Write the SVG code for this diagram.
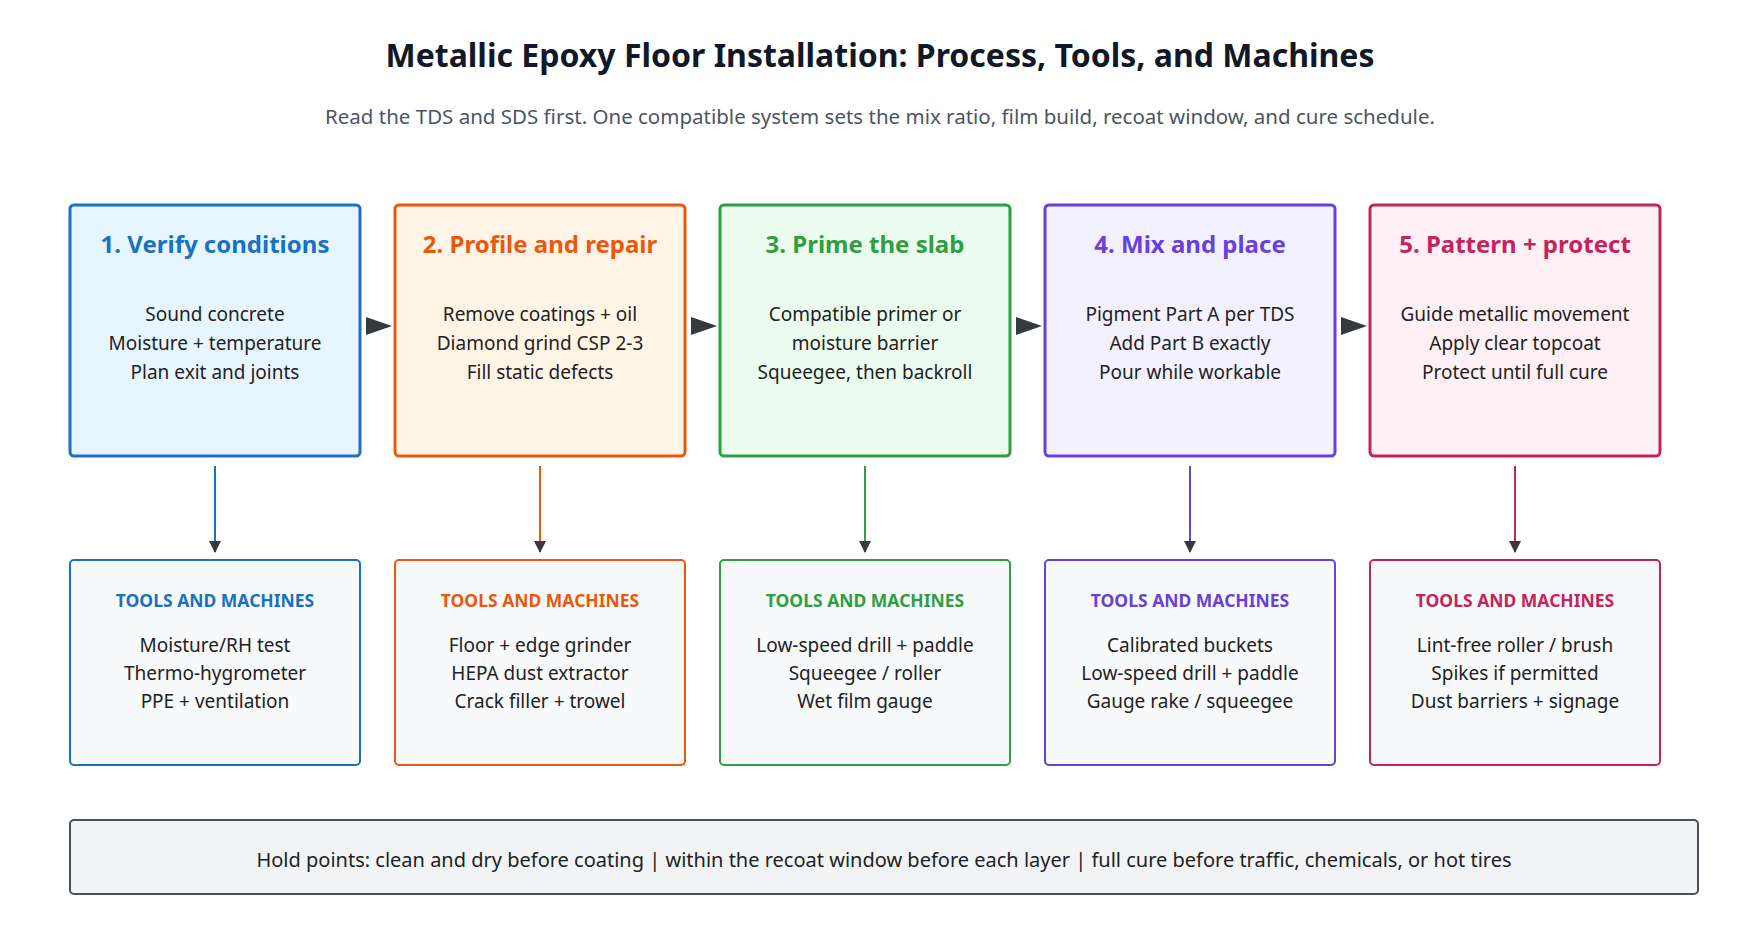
<svg xmlns="http://www.w3.org/2000/svg" width="1760" height="940" viewBox="0 0 1760 940">
<style>
text{font-family:"Noto Sans","Open Sans",sans-serif;text-anchor:middle}
.t{font-size:32px;font-weight:700;fill:#111827}
.s{font-size:20.5px;fill:#4b5563}
.h{font-size:24px;font-weight:700}
.b{font-size:19px;fill:#222}
.k{font-size:17.5px;font-weight:700}
.step{stroke-width:3}
.tool{stroke-width:2;fill:#f8f9fa}
</style>
<defs>
<marker id="d" markerWidth="12" markerHeight="16" refX="11" refY="6" orient="auto" markerUnits="userSpaceOnUse"><path d="M0,0L12,6L0,12z" fill="#343a40"/></marker>
<marker id="r" markerWidth="26" markerHeight="18" refX="26" refY="9" orient="auto" markerUnits="userSpaceOnUse"><path d="M0,0L26,9L0,18z" fill="#343a40"/></marker>
</defs>
<rect width="1760" height="940" fill="#fff"/>
<text class="t" x="880" y="67">Metallic Epoxy Floor Installation: Process, Tools, and Machines</text>
<text class="s" x="880" y="124">Read the TDS and SDS first. One compatible system sets the mix ratio, film build, recoat window, and cure schedule.</text>

<g id="connectors" stroke-width="2">
<path d="M366,326H392" stroke="none" marker-end="url(#r)"/>
<path d="M691,326H717" stroke="none" marker-end="url(#r)"/>
<path d="M1016,326H1042" stroke="none" marker-end="url(#r)"/>
<path d="M1341,326H1367" stroke="none" marker-end="url(#r)"/>
<path d="M215,466V552" stroke="#1971c2" marker-end="url(#d)"/>
<path d="M540,466V552" stroke="#e8590c" marker-end="url(#d)"/>
<path d="M865,466V552" stroke="#2f9e44" marker-end="url(#d)"/>
<path d="M1190,466V552" stroke="#6741d9" marker-end="url(#d)"/>
<path d="M1515,466V552" stroke="#c2255c" marker-end="url(#d)"/>
</g>

<g id="step1"><rect class="step" x="70" y="205" width="290" height="251" rx="4" fill="#e7f5ff" stroke="#1971c2"/>
<text class="h" x="215" y="253" fill="#1971c2">1. Verify conditions</text>
<text class="b" x="215" y="321">Sound concrete</text><text class="b" x="215" y="350">Moisture + temperature</text><text class="b" x="215" y="379">Plan exit and joints</text></g>
<g id="step2"><rect class="step" x="395" y="205" width="290" height="251" rx="4" fill="#fff4e6" stroke="#e8590c"/>
<text class="h" x="540" y="253" fill="#e8590c">2. Profile and repair</text>
<text class="b" x="540" y="321">Remove coatings + oil</text><text class="b" x="540" y="350">Diamond grind CSP 2-3</text><text class="b" x="540" y="379">Fill static defects</text></g>
<g id="step3"><rect class="step" x="720" y="205" width="290" height="251" rx="4" fill="#ebfbee" stroke="#2f9e44"/>
<text class="h" x="865" y="253" fill="#2f9e44">3. Prime the slab</text>
<text class="b" x="865" y="321">Compatible primer or</text><text class="b" x="865" y="350">moisture barrier</text><text class="b" x="865" y="379">Squeegee, then backroll</text></g>
<g id="step4"><rect class="step" x="1045" y="205" width="290" height="251" rx="4" fill="#f3f0ff" stroke="#6741d9"/>
<text class="h" x="1190" y="253" fill="#6741d9">4. Mix and place</text>
<text class="b" x="1190" y="321">Pigment Part A per TDS</text><text class="b" x="1190" y="350">Add Part B exactly</text><text class="b" x="1190" y="379">Pour while workable</text></g>
<g id="step5"><rect class="step" x="1370" y="205" width="290" height="251" rx="4" fill="#fff0f6" stroke="#c2255c"/>
<text class="h" x="1515" y="253" fill="#c2255c">5. Pattern + protect</text>
<text class="b" x="1515" y="321">Guide metallic movement</text><text class="b" x="1515" y="350">Apply clear topcoat</text><text class="b" x="1515" y="379">Protect until full cure</text></g>

<g id="tools1"><rect class="tool" x="70" y="560" width="290" height="205" rx="4" stroke="#1971c2"/>
<text class="k" x="215" y="607" fill="#1971c2">TOOLS AND MACHINES</text>
<text class="b" x="215" y="652">Moisture/RH test</text><text class="b" x="215" y="680">Thermo-hygrometer</text><text class="b" x="215" y="708">PPE + ventilation</text></g>
<g id="tools2"><rect class="tool" x="395" y="560" width="290" height="205" rx="4" stroke="#e8590c"/>
<text class="k" x="540" y="607" fill="#e8590c">TOOLS AND MACHINES</text>
<text class="b" x="540" y="652">Floor + edge grinder</text><text class="b" x="540" y="680">HEPA dust extractor</text><text class="b" x="540" y="708">Crack filler + trowel</text></g>
<g id="tools3"><rect class="tool" x="720" y="560" width="290" height="205" rx="4" stroke="#2f9e44"/>
<text class="k" x="865" y="607" fill="#2f9e44">TOOLS AND MACHINES</text>
<text class="b" x="865" y="652">Low-speed drill + paddle</text><text class="b" x="865" y="680">Squeegee / roller</text><text class="b" x="865" y="708">Wet film gauge</text></g>
<g id="tools4"><rect class="tool" x="1045" y="560" width="290" height="205" rx="4" stroke="#6741d9"/>
<text class="k" x="1190" y="607" fill="#6741d9">TOOLS AND MACHINES</text>
<text class="b" x="1190" y="652">Calibrated buckets</text><text class="b" x="1190" y="680">Low-speed drill + paddle</text><text class="b" x="1190" y="708">Gauge rake / squeegee</text></g>
<g id="tools5"><rect class="tool" x="1370" y="560" width="290" height="205" rx="4" stroke="#c2255c"/>
<text class="k" x="1515" y="607" fill="#c2255c">TOOLS AND MACHINES</text>
<text class="b" x="1515" y="652">Lint-free roller / brush</text><text class="b" x="1515" y="680">Spikes if permitted</text><text class="b" x="1515" y="708">Dust barriers + signage</text></g>

<g id="hold"><rect x="70" y="820" width="1628" height="74" rx="4" fill="#f1f3f5" stroke="#495057" stroke-width="2"/>
<text class="b" x="884" y="867" style="font-size:20px">Hold points: clean and dry before coating | within the recoat window before each layer | full cure before traffic, chemicals, or hot tires</text></g>
</svg>
